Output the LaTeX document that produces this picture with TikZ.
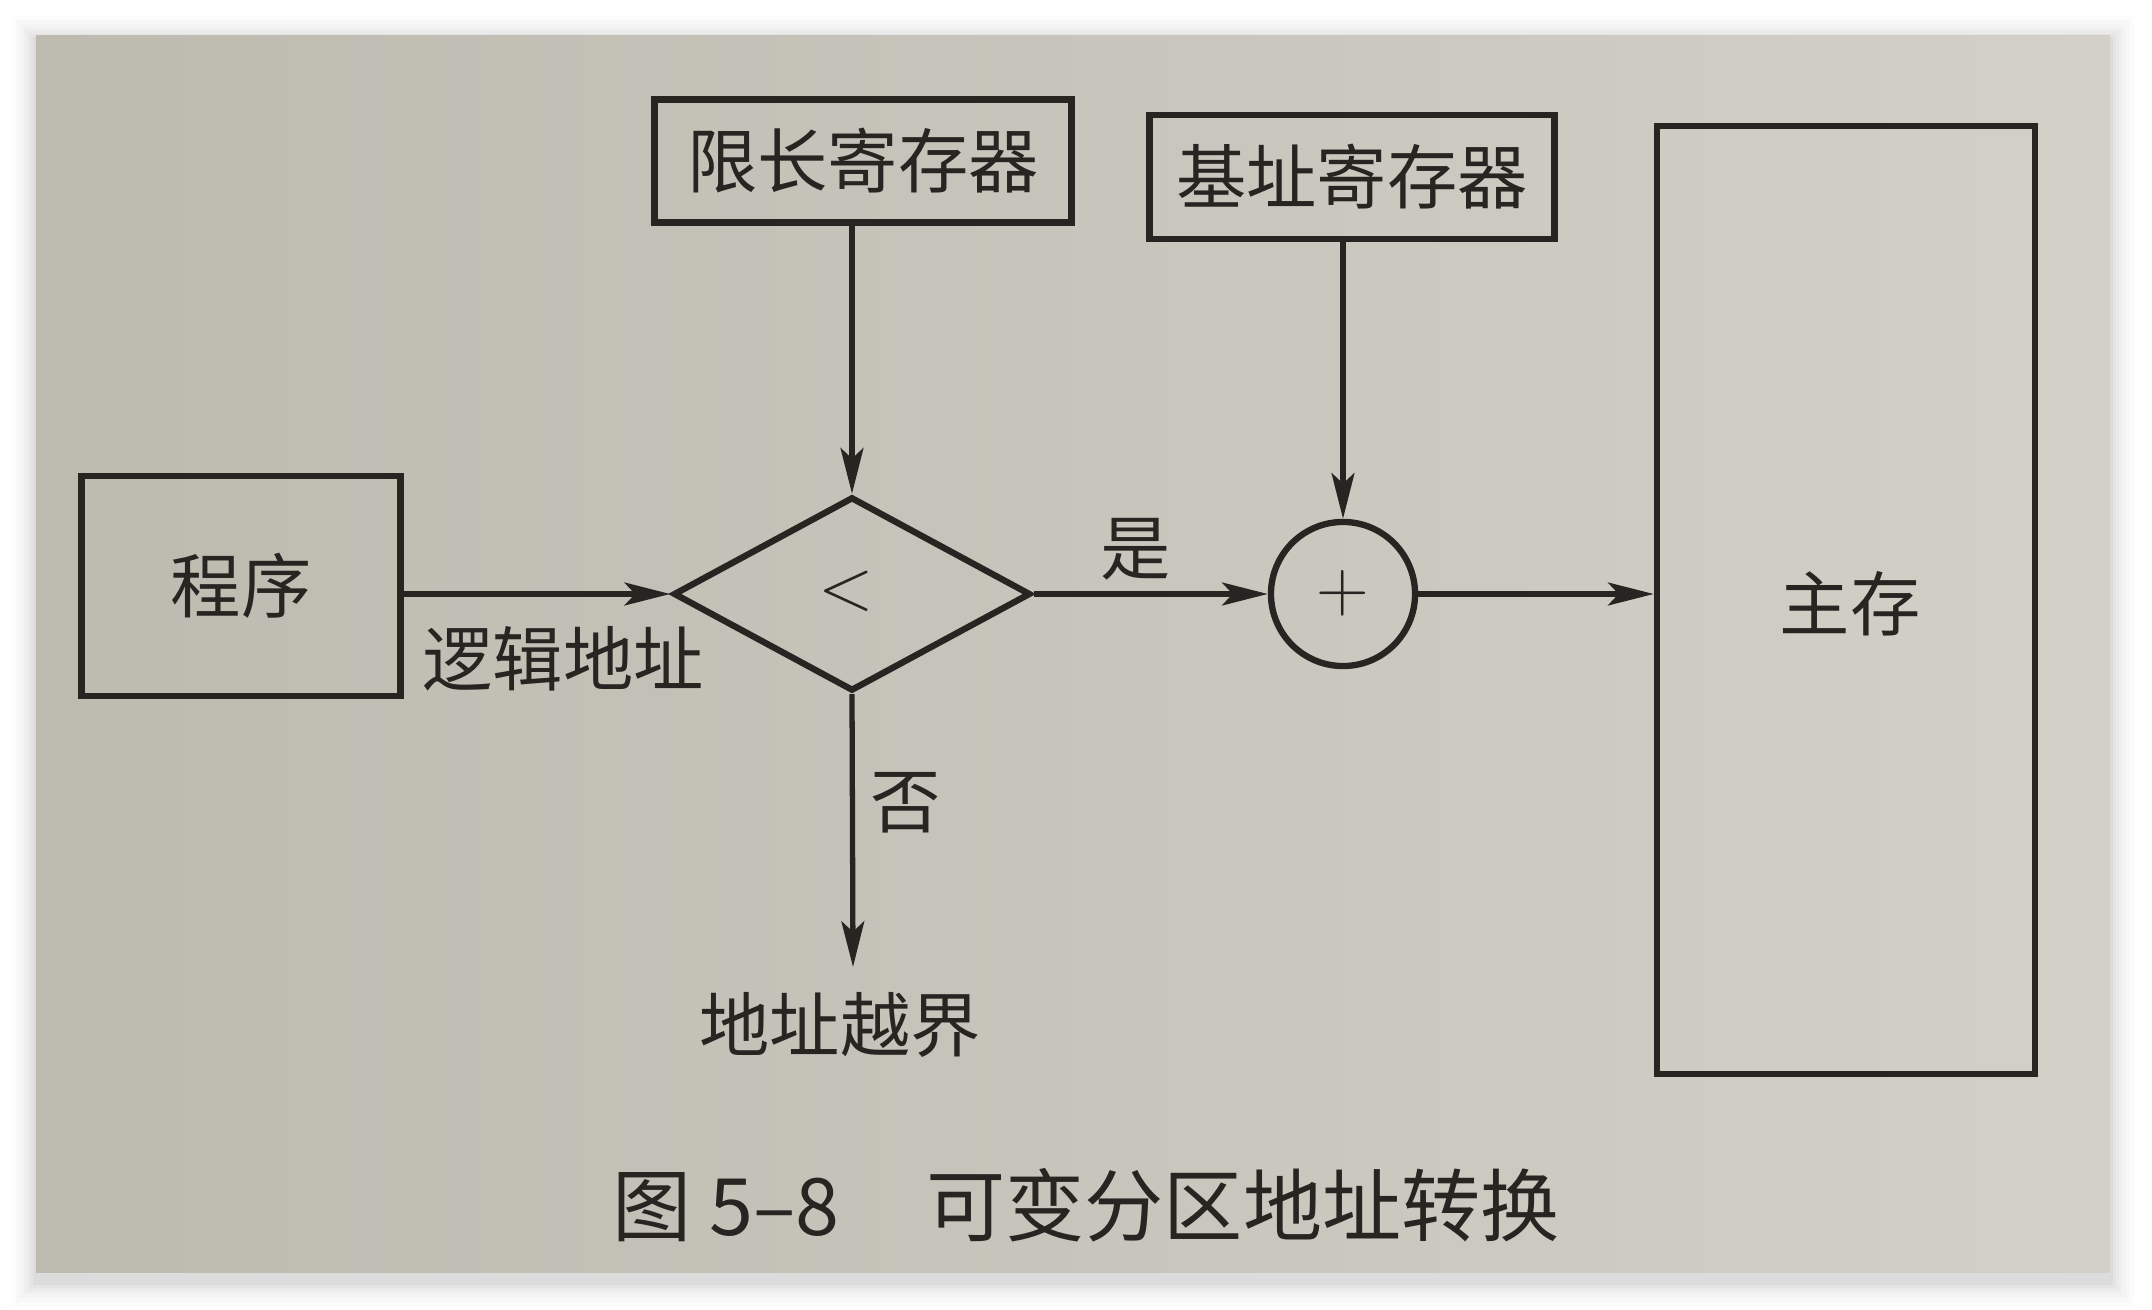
\documentclass[tikz,border=0pt]{standalone}
\usepackage{fontspec}
\setmainfont{Noto Sans CJK SC}
\newfontfamily\cjk{Noto Sans CJK SC}
\usetikzlibrary{arrows.meta,shapes.geometric}
\definecolor{ink}{HTML}{262522}
\definecolor{paperL}{HTML}{BDBAB0}
\definecolor{paperR}{HTML}{D2D0C7}
\tikzset{
  box/.style={draw=ink,line width=1.8pt,inner sep=0pt},
  lbl/.style={text=ink,font=\cjk\fontsize{20}{22}\selectfont,inner sep=0pt},
  conn/.style={draw=ink,line width=1.5pt,-{Stealth[length=13pt,width=6.5pt,inset=3pt]}},
  plain/.style={draw=ink,line width=1.5pt}
}
\begin{document}
\begin{tikzpicture}[x=0.01cm,y=-0.01cm]
\useasboundingbox (0,0) rectangle (2152,1310);
\fill[white] (0,0) rectangle (2152,1310);
% soft shadow
\foreach \i/\o in {24/0.012,20/0.014,16/0.016,12/0.018,9/0.02,6/0.025,3/0.03}{
  \fill[black,opacity=\o] (36-\i,36-\i+4) rectangle (2110+\i,1272+\i+10);
}
\shade[left color=paperL,right color=paperR] (36,36) rectangle (2110,1272);

% nodes
\node[box,minimum width=3.19cm,minimum height=2.2cm,lbl] (prog) at (241,586) {程序};
\node[box,minimum width=4.17cm,minimum height=1.23cm,lbl] (limit) at (863,161) {限长寄存器};
\node[box,minimum width=4.05cm,minimum height=1.24cm,lbl] (base) at (1352,177) {基址寄存器};
\node[box,minimum width=3.78cm,minimum height=9.47cm] (mem) at (1846,600) {};
\node[lbl] (memtext) at (1850,604) {主存};
\node[box,diamond,minimum width=3.57cm,minimum height=1.94cm,aspect=1.84] (cmp) at (852,594) {};
\node[lbl,font=\fontsize{22}{24}\selectfont] (lt) at (846,591) {$<$};
\node[box,circle,minimum size=1.44cm] (add) at (1343,594) {};
\node[lbl,font=\fontsize{21}{23}\selectfont] (plus) at (1343,593) {$+$};
\coordinate (out) at (853,967);

% connectors
\draw[conn] (prog.east |- cmp.west) -- (cmp.west);
\draw[conn] (limit.south -| cmp.north) -- (cmp.north);
\draw[conn] (cmp.east) -- (add.west);
\draw[conn] (base.south -| add.north) -- (add.north);
\draw[conn] (add.east) -- (add.east -| mem.west);
\draw[conn] (cmp.south) -- (out);

% labels
\node[lbl] (la) at (563,659) {逻辑地址};
\node[lbl] (yes) at (1136,549) {是};
\node[lbl] (no) at (906,803) {否};
\node[lbl,anchor=north] (oob) at (840,992) {地址越界};
\node[lbl,font=\cjk\fontsize{22.5}{24}\selectfont] (cap) at (1086,1205) {图 5–8\hspace{1.1em}可变分区地址转换};
\end{tikzpicture}
\end{document}
